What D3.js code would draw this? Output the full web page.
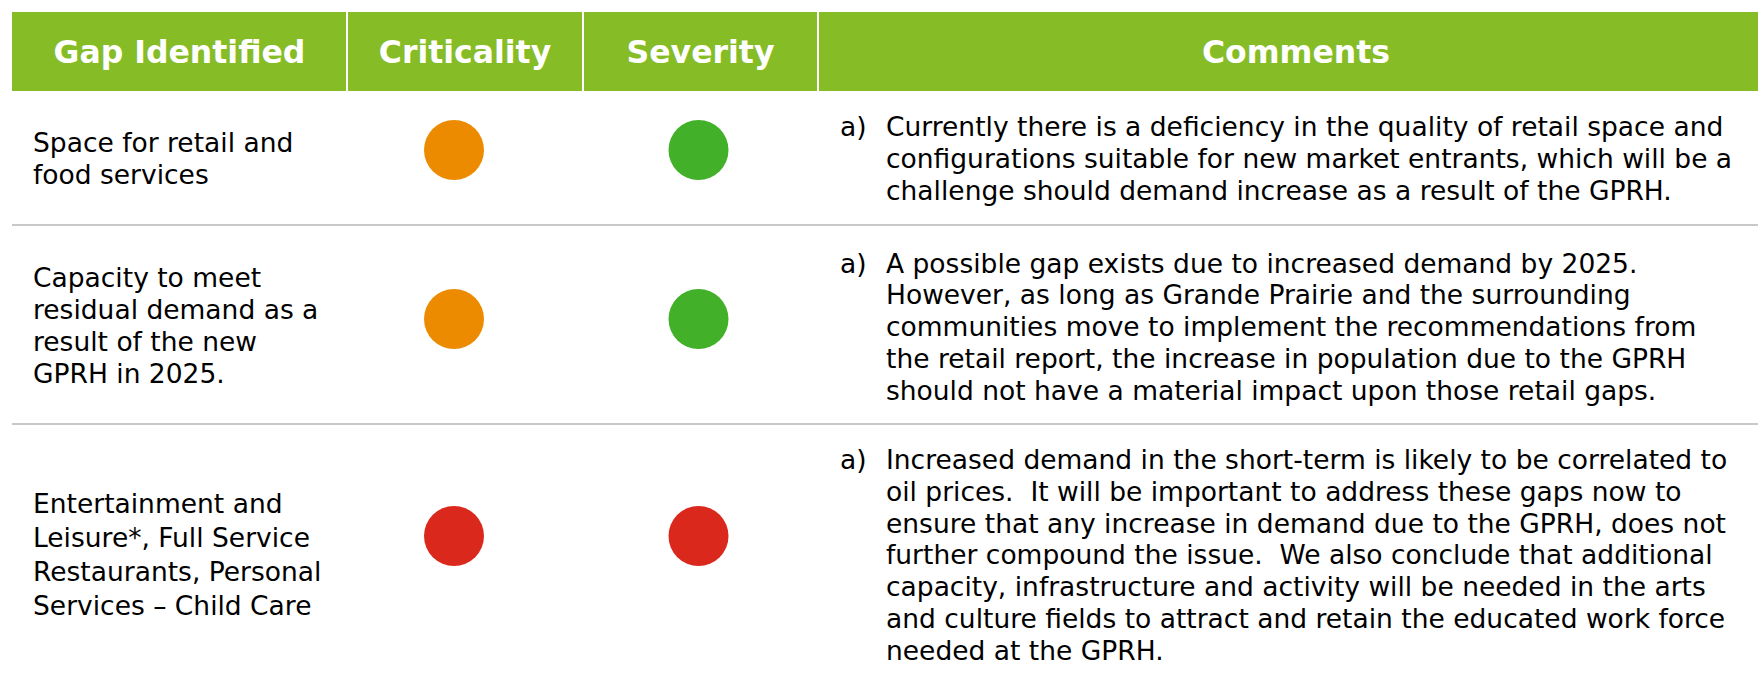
<!DOCTYPE html>
<html>
<head>
<meta charset="utf-8">
<script src="https://cdn.jsdelivr.net/npm/d3@7"></script>
<style>
  html, body { margin: 0; padding: 0; background: #fff; }
  svg { display: block; }
</style>
</head>
<body>
<div id="chart"></div>
<script>
// ---------- DATA ----------
const columns = ["Gap Identified", "Criticality", "Severity", "Comments"];

const gaps = [
  ["Space for retail and", "food services"],
  ["Capacity to meet", "residual demand as a", "result of the new", "GPRH in 2025."],
  ["Entertainment and", "Leisure*, Full Service", "Restaurants, Personal", "Services \u2013 Child Care"]
];

const criticality = ["Medium", "Medium", "High"];
const severity = ["Low", "Low", "High"];

const commentLabels = ["a)", "a)", "a)"];
const comments = [
  [
    "Currently there is a deficiency in the quality of retail space and",
    "configurations suitable for new market entrants, which will be a",
    "challenge should demand increase as a result of the GPRH."
  ],
  [
    "A possible gap exists due to increased demand by 2025.",
    "However, as long as Grande Prairie and the surrounding",
    "communities move to implement the recommendations from",
    "the retail report, the increase in population due to the GPRH",
    "should not have a material impact upon those retail gaps."
  ],
  [
    "Increased demand in the short-term is likely to be correlated to",
    "oil prices.  It will be important to address these gaps now to",
    "ensure that any increase in demand due to the GPRH, does not",
    "further compound the issue.  We also conclude that additional",
    "capacity, infrastructure and activity will be needed in the arts",
    "and culture fields to attract and retain the educated work force",
    "needed at the GPRH."
  ]
];

// ---------- LAYOUT ----------
const W = 1758, H = 681;
const colEdges = [12, 347, 583, 818, 1758];
const headerTextX = [179.5, 465, 700.5, 1296];
const headerTop = 12, headerBottom = 91;
const rowBottoms = [225, 424];
const rowIdx = d3.range(gaps.length);

const levelColor = d3.scaleOrdinal()
  .domain(["Low", "Medium", "High"])
  .range(["#43B02A", "#ED8B00", "#DA291C"]);

const circleY = d3.scaleOrdinal().domain(rowIdx).range([150, 319, 536]);
const gapBaseline = d3.scaleOrdinal().domain(rowIdx).range([152, 287, 512.5]);
const gapLineH = d3.scaleOrdinal().domain(rowIdx).range([32, 32, 34]);
const commentBaseline = d3.scaleOrdinal().domain(rowIdx).range([136, 272.5, 469]);
const commentLineH = 31.8;

const ratingX = { Criticality: 454, Severity: 698.5 };

const svg = d3.select("#chart").append("svg")
  .attr("width", W).attr("height", H)
  .style("font-family", "'DejaVu Sans', Verdana, sans-serif");

// Header
svg.append("rect")
  .attr("x", colEdges[0]).attr("y", headerTop)
  .attr("width", colEdges[4] - colEdges[0]).attr("height", headerBottom - headerTop)
  .attr("fill", "#86BC25");

svg.selectAll("line.hdiv").data(colEdges.slice(1, 4)).join("line")
  .attr("class", "hdiv")
  .attr("x1", d => d).attr("x2", d => d)
  .attr("y1", headerTop).attr("y2", headerBottom)
  .attr("stroke", "#ffffff").attr("stroke-width", 2);

svg.selectAll("text.hdr").data(columns).join("text")
  .attr("class", "hdr")
  .attr("x", (d, i) => headerTextX[i])
  .attr("y", 62.5)
  .attr("text-anchor", "middle")
  .attr("fill", "#ffffff")
  .attr("font-weight", "bold")
  .attr("font-size", "31.5px")
  .text(d => d);

// Row separators
svg.selectAll("line.sep").data(rowBottoms).join("line")
  .attr("class", "sep")
  .attr("x1", colEdges[0]).attr("x2", W)
  .attr("y1", d => d).attr("y2", d => d)
  .attr("stroke", "#c8c8c8").attr("stroke-width", 2);

// Gap text
const gapG = svg.selectAll("text.gap").data(gaps).join("text")
  .attr("class", "gap")
  .attr("font-size", "26.5px")
  .attr("fill", "#000");
gapG.each(function (lines, i) {
  d3.select(this).selectAll("tspan").data(lines).join("tspan")
    .attr("x", 33)
    .attr("y", (d, j) => gapBaseline(i) + j * gapLineH(i))
    .text(d => d);
});

// Rating circles
const ratings = [
  { key: "Criticality", values: criticality },
  { key: "Severity", values: severity }
];
ratings.forEach(r => {
  svg.selectAll("circle." + r.key).data(r.values).join("circle")
    .attr("class", r.key)
    .attr("cx", ratingX[r.key])
    .attr("cy", (d, i) => circleY(i))
    .attr("r", 30)
    .attr("fill", d => levelColor(d));
});

// Comments
svg.selectAll("text.lbl").data(commentLabels).join("text")
  .attr("class", "lbl")
  .attr("x", 840)
  .attr("y", (d, i) => commentBaseline(i))
  .attr("font-size", "26.5px")
  .attr("fill", "#000")
  .text(d => d);

const comG = svg.selectAll("text.com").data(comments).join("text")
  .attr("class", "com")
  .attr("font-size", "26.5px")
  .attr("fill", "#000")
  .style("white-space", "pre");
comG.each(function (lines, i) {
  d3.select(this).selectAll("tspan").data(lines).join("tspan")
    .attr("x", 886)
    .attr("y", (d, j) => commentBaseline(i) + j * commentLineH)
    .text(d => d);
});
</script>
</body>
</html>
